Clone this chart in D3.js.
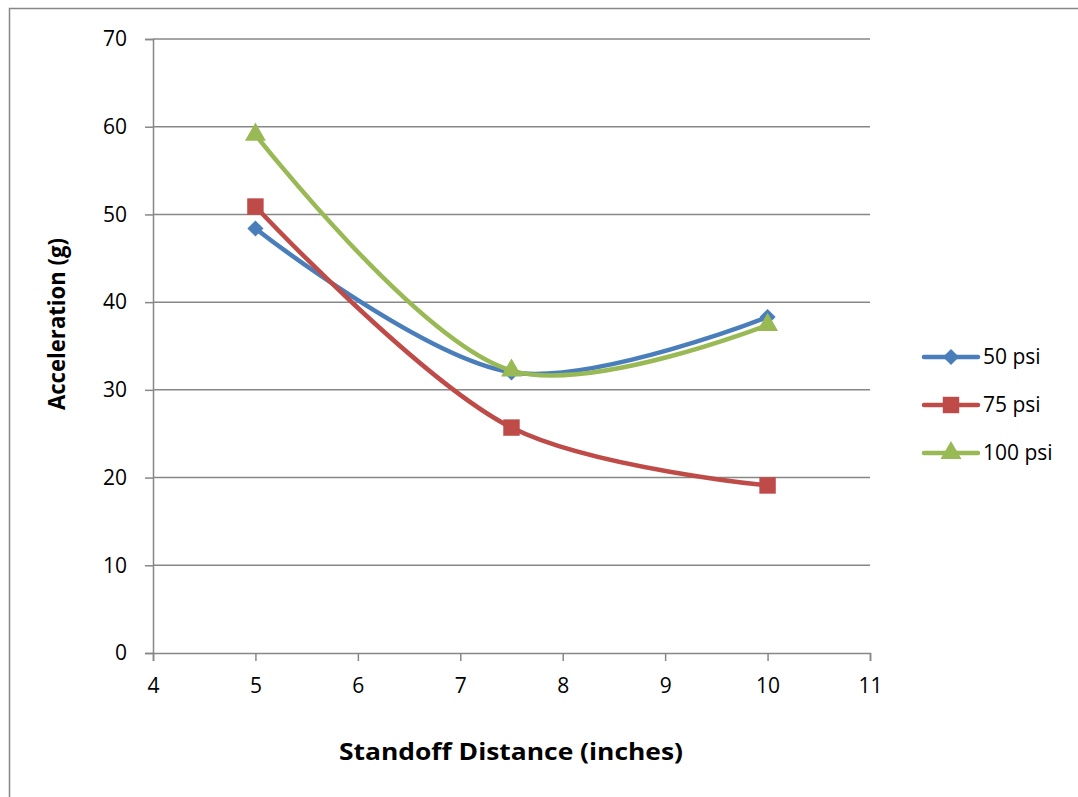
<!DOCTYPE html>
<html>
<head>
<meta charset="utf-8">
<script src="https://cdn.jsdelivr.net/npm/d3@7"></script>
<style>
  body { margin: 0; background: #fff; }
  text { font-family: "Open Sans", "Liberation Sans", sans-serif; fill: #000; }
</style>
</head>
<body>
<svg id="chart" width="1078" height="797"></svg>
<script>
const distances = [5, 7.5, 10];
const psi50 = [48.4, 32.0, 38.3];
const psi75 = [50.9, 25.7, 19.1];
const psi100 = [59.1, 32.2, 37.4];
const xTicks = [4, 5, 6, 7, 8, 9, 10, 11];
const yTicks = [0, 10, 20, 30, 40, 50, 60, 70];

const series = [
  { name: "50 psi", values: psi50, color: "#4A7EBB", symbol: d3.symbolSquare, size: 130, rot: 45 },
  { name: "75 psi", values: psi75, color: "#BE4B48", symbol: d3.symbolSquare, size: 270, rot: 0 },
  { name: "100 psi", values: psi100, color: "#98B954", symbol: d3.symbolTriangle, size: 190, rot: 0 }
];

const svg = d3.select("#chart");

// outer chart border
svg.append("rect")
  .attr("x", 9.5).attr("y", 8.5)
  .attr("width", 1090).attr("height", 800)
  .attr("fill", "none").attr("stroke", "#878787").attr("stroke-width", 1.5);

const x = d3.scaleLinear().domain([4, 11]).range([153, 870]);
const y = d3.scaleLinear().domain([0, 70]).range([653, 39]);

// gridlines
svg.append("g")
  .selectAll("line")
  .data(yTicks.filter(d => d > 0))
  .join("line")
  .attr("x1", x(4)).attr("x2", x(11))
  .attr("y1", d => y(d)).attr("y2", d => y(d))
  .attr("stroke", "#878787").attr("stroke-width", 1.5);

// y axis
const yAxis = svg.append("g")
  .attr("transform", `translate(${x(4)},0)`)
  .call(d3.axisLeft(y).tickValues(yTicks).tickSize(8).tickPadding(18).tickFormat(d3.format("d")));

// x axis
const xAxis = svg.append("g")
  .attr("transform", `translate(0,${y(0)})`)
  .call(d3.axisBottom(x).tickValues(xTicks).tickSize(8).tickPadding(17).tickFormat(d3.format("d")));

[yAxis, xAxis].forEach(a => {
  a.select(".domain").attr("stroke", "#878787").attr("stroke-width", 1.5);
  a.selectAll(".tick line").attr("stroke", "#878787").attr("stroke-width", 1.5);
  a.selectAll(".tick text").style("font-size", "21px");
});

// lines
const line = d3.line()
  .x((d, i) => x(distances[i]))
  .y(d => y(d))
  .curve(d3.curveCatmullRom.alpha(0.5));

series.forEach(s => {
  svg.append("path")
    .datum(s.values)
    .attr("d", line)
    .attr("fill", "none")
    .attr("stroke", s.color)
    .attr("stroke-width", 4.5)
    .attr("stroke-linecap", "round");
});

series.forEach(s => {
  svg.append("g")
    .selectAll("path")
    .data(s.values)
    .join("path")
    .attr("transform", (d, i) => `translate(${x(distances[i])},${y(d)}) rotate(${s.rot})`)
    .attr("d", d3.symbol(s.symbol, s.size))
    .attr("fill", s.color);
});

// axis titles
svg.append("text")
  .attr("x", 511).attr("y", 760)
  .attr("text-anchor", "middle")
  .style("font-size", "24px").attr("font-weight", "bold")
  .attr("textLength", 344).attr("lengthAdjust", "spacingAndGlyphs")
  .text("Standoff Distance (inches)");

svg.append("text")
  .attr("transform", "translate(65,324) rotate(-90)")
  .attr("text-anchor", "middle")
  .style("font-size", "24px").attr("font-weight", "bold")
  .attr("textLength", 172).attr("lengthAdjust", "spacingAndGlyphs")
  .text("Acceleration (g)");

// legend
const legend = svg.append("g")
  .selectAll("g")
  .data(series)
  .join("g")
  .attr("transform", (d, i) => `translate(924,${357 + i * 48})`);

legend.append("line")
  .attr("x1", 0).attr("x2", 54)
  .attr("stroke", d => d.color).attr("stroke-width", 4.5).attr("stroke-linecap", "round");
legend.append("path")
  .attr("transform", d => `translate(27,0) rotate(${d.rot})`)
  .attr("d", d => d3.symbol(d.symbol, d.size)())
  .attr("fill", d => d.color);
legend.append("text")
  .attr("x", 59).attr("dy", "0.35em")
  .style("font-size", "21px")
  .text(d => d.name);
</script>
</body>
</html>
